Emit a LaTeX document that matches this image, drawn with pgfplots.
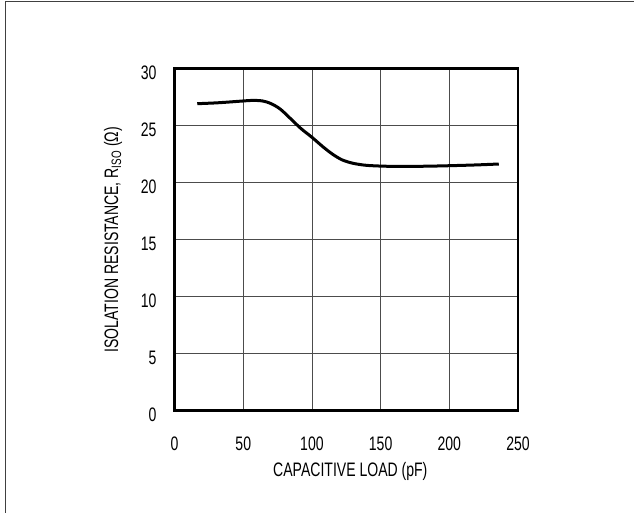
\documentclass[border=0pt]{standalone}
\usepackage{pgfplots}
\pgfplotsset{compat=1.18}
\usepackage{fontspec}
\setmainfont[FakeStretch=0.72]{Liberation Sans}

\begin{document}
\fontsize{19.5bp}{23bp}\selectfont
\begin{tikzpicture}
  \useasboundingbox (-174.6bp,-102.3bp) rectangle (459.4bp,410.7bp);
  % outer frame, cut by the page on the right and at the bottom
  \draw[black!75, line width=1.4bp] (-169.3bp,-120bp) -- (-169.3bp,408.9bp) -- (480bp,408.9bp);
  \begin{axis}[
    at={(0,0)}, anchor=south west,
    scale only axis,
    width=343.4bp, height=342bp,
    xmin=0, xmax=250, ymin=0, ymax=30,
    xtick={0,50,...,250},
    ytick={0,5,...,30},
    major tick length=0pt,
    grid=major,
    major grid style={black!70, line width=0.9bp},
    axis line style={line width=2.8bp},
    /pgf/number format/assume math mode=true,
    tick label style={font=\fontsize{19.5bp}{23bp}\selectfont, inner sep=0pt},
    xticklabel style={anchor=base, yshift=-40bp},
    yticklabel style={anchor=east, xshift=-17.9bp, yshift=-3.8bp},
    label style={font=\fontsize{19.5bp}{23bp}\selectfont, inner sep=0pt},
    xlabel={CAPACITIVE LOAD (pF)},
    every axis x label/.style={at={(axis description cs:0.5117,-0.193)}, anchor=base},
    ylabel={ISOLATION RESISTANCE, R\textsubscript{ISO} (Ω)},
    every axis y label/.style={at={(axis description cs:-0.1648,0.5)}, rotate=90, anchor=base},
  ]
    \addplot[black, line width=3bp, smooth] coordinates {
      (16.5,26.93) (30,27.0) (40,27.08) (50,27.17) (57,27.22) (64,27.17)
      (70,26.95) (77,26.45) (85,25.55) (92,24.75) (100,23.98) (108,23.15)
      (115,22.5) (122,22.0) (130,21.7) (140,21.52) (155,21.44) (170,21.43)
      (185,21.45) (200,21.49) (220,21.56) (236,21.64)
    };
  \end{axis}
\end{tikzpicture}
\end{document}
